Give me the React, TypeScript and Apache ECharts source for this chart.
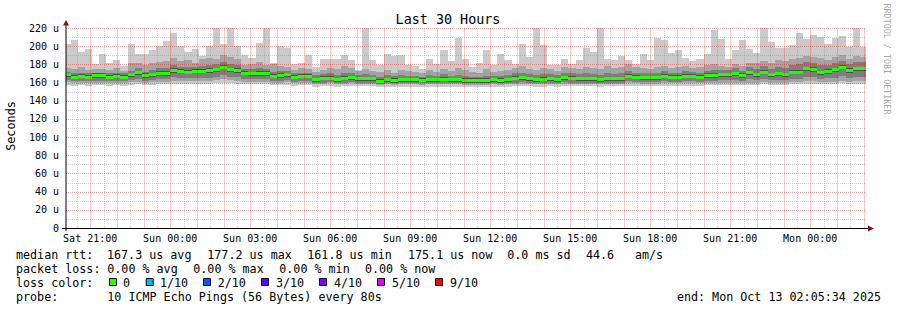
import React, { useEffect, useRef } from 'react';
import * as echarts from 'echarts';

// ---- time frame (hours counted from Sat 00:00) ----
const START_H = 20 + 5 / 60 + 34 / 3600; // Sat 20:05:34
const END_H = START_H + 30; // Mon 02:05:34
const FIRST_EDGE_H = START_H + 634.5 / 3600; // first 960 s consolidation boundary
const STEP_H = 960 / 3600;
const dayNames = ['Sat', 'Sun', 'Mon'];
const labelHours = [21, 24, 27, 30, 33, 36, 39, 42, 45, 48];

// ---- smoke data (microseconds), one entry per 960 s step ----
const medianRtt = [168.5,165.9,167.0,165.9,167.4,167.4,165.9,166.6,165.9,168.5,
170.7,167.4,168.8,169.9,169.9,173.2,172.1,171.4,172.1,172.1,
172.9,174.0,176.9,174.0,173.2,169.9,169.6,169.9,169.9,167.0,
167.7,168.8,165.9,167.0,167.0,163.0,164.8,164.8,163.0,164.8,
165.2,164.1,164.1,164.1,161.5,163.3,162.2,163.3,163.3,163.0,
162.6,163.0,163.0,163.7,163.0,163.0,162.2,162.2,161.9,162.2,
163.0,162.2,163.0,164.8,165.2,164.1,163.0,163.7,164.1,163.0,
165.2,164.8,164.1,164.1,164.1,163.0,164.1,164.1,164.1,166.6,
165.9,165.2,165.2,165.2,167.0,165.9,165.9,167.0,167.0,165.9,
167.7,167.7,168.5,168.5,169.6,167.7,170.7,168.5,171.4,168.8,
169.6,168.5,171.4,171.4,175.1,174.3,170.7,171.8,174.0,176.9,
173.2,175.1,175.1];

const maxRtt = [202.6,207.1,193.8,197.1,180.6,191.6,181.3,185.0,177.7,202.6,
191.6,191.6,196.0,200.4,206.0,214.8,200.4,193.8,197.1,189.4,
200.4,220,202.6,220,200.4,190.5,187.2,203.7,220,182.0,
200.4,198.2,180.6,181.3,190.5,176.9,186.1,186.1,186.1,190.5,
185.0,174.0,220,184.3,178.8,191.6,189.4,190.5,178.8,177.7,
175.1,186.1,179.9,196.0,183.5,209.3,185.5,176.9,181.3,196.0,
178.8,191.6,185.0,180.6,202.6,188.0,220,201.5,178.8,179.5,
186.1,180.6,185.0,198.2,193.8,220,186.1,185.0,189.0,184.3,
179.9,191.6,185.0,209.3,207.0,192.4,196.0,187.2,183.5,186.1,
191.6,217.3,208.2,186.1,196.0,207.1,197.1,192.4,220,204.5,
198.2,198.2,200.8,214.4,208.2,212.6,210.0,202.6,209.3,211.5,
199.0,220,199.0];

const ping9 = [176,175,177,174,175,175,174,176,173,181,
182,179,181,183,184,187,184,185,182,186,
187,186,190,188,186,179,180,183,179,180,
178,177,174,176,175,172,174,176,175,178,
176,173,175,173,172,174,171,174,173,172,
171,174,172,175,173,176,174,172,171,175,
172,173,174,176,178,175,174,176,175,173,
177,176,175,177,176,175,178,176,177,180,
177,176,175,177,178,176,177,178,176,177,
179,180,178,177,180,178,182,181,184,182,
185,184,186,187,189,188,187,185,188,190,
186,189,188];

const ping8 = [172,170,171,170,171,171,170,171,170,173,
176,172,174,176,176,179,177,177,177,178,
179,180,183,180,179,175,175,176,175,172,
173,173,170,171,171,168,169,170,168,170,
170,168,169,168,166,168,167,168,167,167,
166,168,167,169,167,168,167,166,166,167,
167,167,168,170,171,169,168,169,169,168,
171,170,169,170,169,168,170,169,170,173,
171,170,170,171,173,171,171,173,172,171,
173,174,174,174,176,173,177,175,178,175,
177,176,179,180,183,182,179,179,182,184,
180,183,183];

const ping7 = [171,168.5,169.5,168.5,170,170,168.5,169,168.5,171,
173,170,171,172.5,172.5,175.5,174.5,174,174.5,174.5,
175.5,176.5,179.5,176.5,175.5,172.5,172,172.5,172.5,169.5,
170,171,168.5,169.5,169.5,165.5,167,167,165.5,167,
167.5,166.5,166.5,166.5,164,165.5,164.5,165.5,165.5,165.5,
165,165.5,165.5,166,165.5,165.5,164.5,164.5,164.5,164.5,
165.5,164.5,165.5,167,167.5,166.5,165.5,166,166.5,165.5,
167.5,167,166.5,166.5,166.5,165.5,166.5,166.5,166.5,169,
168.5,167.5,167.5,167.5,169.5,168.5,168.5,169.5,169.5,168.5,
170,170,171,171,172,170,173,171,174,171,
172,171,174,174,177.5,177,173,174.5,176.5,179.5,
175.5,177.5,177.5];

const ping4 = [166.5,164,165,164,165.5,165.5,164,164.5,164,166.5,
168.5,165.5,166.5,167.5,167.5,171,170,169,170,170,
170.5,171.5,174.5,172,171,168,167.5,167.5,167.5,165,
165.5,166.5,164,165,165,161,162.5,163,161,162.5,
163,162,162,162,159.5,161,160,161,161,161,
160.5,161,161,161.5,161,161,160,160,160,160,
161,160,161,162.5,163,162,161,161.5,162,161,
163,162.5,162,162,162,161,162,162,162,164.5,
164,163,163,163,165,164,164,165,165,164,
165.5,165.5,166.5,166.5,167.5,165.5,168.5,166.5,169,166.5,
167.5,166.5,169,169,172.5,172,168.5,169.5,171.5,174.5,
171,172.5,172.5];

const ping3 = [163,162,162,161.5,162,162,161.5,162,161.5,163,
164,162,163,163.5,163.5,166,165,164.5,165,165,
165.5,166,168,166.5,166,164,163.5,163.5,163.5,162,
162,162.5,161,161.5,161.5,159.5,160,160.5,159.5,160,
160.5,160,160,160,158.5,159.5,159,159.5,159.5,159.5,
159,159.5,159.5,160,159.5,159.5,159,159,159,159,
159.5,159,159.5,160,160.5,160,159.5,160,160,159.5,
160.5,160,160,160,160,159.5,160,160,160,161.5,
161,160.5,160.5,160.5,161.5,161,161,161.5,161.5,161,
162,162,162.5,162.5,163,162,163.5,162.5,164,162.5,
163,162.5,164,164,166,166,164,164.5,165.5,167,
165,166,166];

const ping2 = [160.5,159.5,160,159.5,160,160,159.5,160,159.5,160.5,
161,160,160.5,161,161,162,162,161.5,162,162,
162,162.5,163.5,162.5,162,161,161,161,161,160,
160,160.5,159.5,160,160,158.5,158.5,159,158.5,158.5,
159,158.5,158.5,158.5,157.5,158,157.5,158,158,158,
157.5,158,158,158,158,158,157.5,157.5,157.5,157.5,
158,157.5,158,158.5,158.5,158.5,158,158,158.5,158,
158.5,158.5,158.5,158.5,158.5,158,158.5,158.5,158.5,159,
159,158.5,158.5,158.5,159,159,159,159,159,159,
159.5,159.5,159.5,159.5,160,159.5,160,159.5,160.5,159.5,
160,159.5,160.5,160.5,161.5,161.5,160.5,160.5,161,162,
161,161.5,161.5];

const minRtt = [157,156.5,157,156,157,157,156,157,156.5,157.5,
158,157,157.5,158,158,158.5,158.5,158,158.5,158.5,
158.5,159,159.5,159,158.5,158,158,158,158,157,
157,157.5,156.5,157,157,155.5,156,156,155.5,156,
156,156,156,156,155,155.5,155,155.5,155.5,155.5,
155,155.5,155.5,155.5,155.5,155.5,155,155,155,155,
155.5,155,155.5,156,156,156,155.5,155.5,156,155.5,
156,156,156,156,156,155.5,156,156,156,156.5,
156.5,156,156,156,156.5,156.5,156.5,156.5,156.5,156.5,
157,157,157,157,157.5,157,157.5,157,158,157,
157.5,157,158,158,158.5,158.5,158,158,158.5,159,
158.5,158.5,158.5];

// ---- legend texts ----
const lossColors = ['#26ff00', '#00b8ff', '#0059ff', '#5e00ff', '#7e00ff', '#dd00ff', '#ff0000'];
const lossLabels = ['0', '1/10', '2/10', '3/10', '4/10', '5/10', '9/10'];
const rttLegend = ['median rtt:', '167.3 us avg', '177.2 us max', '161.8 us min', '175.1 us now', '0.0 ms sd', '44.6', 'am/s'];
const lossLegend = ['packet loss:', '0.00 % avg', '0.00 % max', '0.00 % min', '0.00 % now'];
const probeText = '10 ICMP Echo Pings (56 Bytes) every 80s';
const endText = 'end: Mon Oct 13 02:05:34 2025';

const MONO = 'DejaVu Sans Mono';
const Y_MAX = 220;

function barEdges(i: number): [number, number] {
  const x0 = i === 0 ? START_H : FIRST_EDGE_H + (i - 1) * STEP_H;
  const x1 = Math.min(END_H, FIRST_EDGE_H + i * STEP_H);
  return [x0, x1];
}

function txt(x: number, y: number, text: string, size: number, align = 'left', extra: any = {}) {
  return {
    type: 'text', x, y, silent: true,
    style: {
      text, fontFamily: MONO, fontSize: size, fill: '#000',
      align, textAlign: align, verticalAlign: 'middle', textVerticalAlign: 'middle',
      ...extra,
    },
  };
}

function gridLineSeries(name: string, data: number[][], color: string, dash: number[] | null, z: number) {
  return {
    type: 'custom', name, silent: true, z,
    data,
    renderItem: (_p: any, api: any) => {
      const kind = api.value(2);
      let x1, y1, x2, y2;
      if (kind === 0) {
        const h = api.value(0);
        const a = api.coord([h, 0]), b = api.coord([h, Y_MAX]);
        x1 = Math.round(a[0]) + 0.5; x2 = x1; y1 = a[1]; y2 = b[1];
      } else {
        const v = api.value(1);
        const a = api.coord([START_H, v]), b = api.coord([END_H, v]);
        y1 = Math.round(a[1]) + 0.5; y2 = y1; x1 = a[0]; x2 = b[0];
      }
      const style: any = { stroke: color, lineWidth: 1 };
      if (dash) style.lineDash = dash;
      return { type: 'line', shape: { x1, y1, x2, y2 }, style };
    },
  };
}

function buildOption() {
  const smokeData = medianRtt.map((m, i) => {
    const [x0, x1] = barEdges(i);
    return [x0, x1, minRtt[i], ping2[i], ping3[i], ping4[i], ping7[i], ping8[i], ping9[i], maxRtt[i], m];
  });

  // grid lines as [x, y, kind(0 vertical / 1 horizontal)]
  const minorGrid: number[][] = [];
  const majorGridH: number[][] = [];
  const majorGridV: number[][] = [];
  for (let k = Math.ceil(START_H * 2); k / 2 < END_H; k++) if (k % 2 === 1) minorGrid.push([k / 2, 0, 0]);
  for (let v = 10; v <= Y_MAX; v += 20) minorGrid.push([START_H, v, 1]);
  for (let h = Math.ceil(START_H); h < END_H; h += 1) majorGridV.push([h, 0, 0]);
  for (let v = 20; v <= Y_MAX; v += 20) majorGridH.push([START_H, v, 1]);

  const bands: [number, number, string][] = [
    [2, 9, '#cacaca'],
    [3, 8, '#a4a4a4'],
    [4, 7, '#7e7e7e'],
    [5, 6, '#4e4e4e'],
  ];

  const graphics: any[] = [];
  graphics.push(txt(448, 19.5, 'Last 30 Hours', 13.4, 'center'));
  graphics.push({ ...txt(11, 126, 'Seconds', 11.8, 'center'), rotation: Math.PI / 2 });
  graphics.push({ ...txt(887, 59, 'RRDTOOL / TOBI OETIKER', 8.4, 'center', { fill: '#a8a8a8' }), rotation: -Math.PI / 2 });

  // axes lines and arrows
  graphics.push({ type: 'line', silent: true, z: 10, shape: { x1: 66, y1: 231, x2: 66, y2: 23 }, style: { stroke: '#000', lineWidth: 1 } });
  graphics.push({ type: 'line', silent: true, z: 10, shape: { x1: 62, y1: 228.5, x2: 869, y2: 228.5 }, style: { stroke: '#000', lineWidth: 1 } });
  graphics.push({ type: 'polygon', silent: true, z: 10, shape: { points: [[63, 25.5], [69, 25.5], [66, 20]] }, style: { fill: '#7f1414' } });
  graphics.push({ type: 'polygon', silent: true, z: 10, shape: { points: [[868, 225.5], [868, 231.5], [874, 228.5]] }, style: { fill: '#7f1414' } });

  // legend
  const rttX = [16, 107, 207.3, 307.3, 408, 507.3, 586, 635];
  rttLegend.forEach((t, i) => graphics.push(txt(rttX[i], 254.5, t, 11.7)));
  const lossX = [16, 107.3, 193.3, 279.3, 365];
  lossLegend.forEach((t, i) => graphics.push(txt(lossX[i], 268.5, t, 11.7)));
  graphics.push(txt(16, 282.5, 'loss color:', 11.7));
  const boxX = [109, 145.7, 203, 261, 319, 377, 435];
  const boxLabelX = [123, 160, 217.7, 276, 334, 392, 450];
  lossColors.forEach((c, i) => {
    graphics.push({ type: 'rect', silent: true, shape: { x: boxX[i] + 0.5, y: 278.5, width: 7, height: 7 }, style: { fill: c, stroke: '#000', lineWidth: 1 } });
    graphics.push(txt(boxLabelX[i], 282.5, lossLabels[i], 11.7));
  });
  graphics.push(txt(16, 296.5, 'probe:', 11.7));
  graphics.push(txt(107.3, 296.5, probeText, 11.7));
  graphics.push(txt(881, 296.5, endText, 11.7, 'right'));

  return {
    animation: false,
    backgroundColor: '#ffffff',
    grid: { left: 66, top: 28, width: 800, height: 200, containLabel: false },
    xAxis: {
      type: 'value', min: START_H, max: END_H,
      axisLine: { show: false }, axisTick: { show: false }, splitLine: { show: false },
      axisLabel: {
        customValues: labelHours,
        formatter: (h: number) => {
          const d = Math.floor(h / 24);
          const hh = Math.round(h - d * 24);
          return `${dayNames[d]} ${String(hh).padStart(2, '0')}:00`;
        },
        fontFamily: MONO, fontSize: 10, color: '#000', margin: 5,
      },
    },
    yAxis: {
      type: 'value', min: 0, max: Y_MAX, interval: 20,
      axisLine: { show: false }, axisTick: { show: false }, splitLine: { show: false },
      axisLabel: {
        formatter: (v: number) => (v === 0 ? '0' : `${v} u`),
        fontFamily: MONO, fontSize: 10, color: '#000', margin: 7,
      },
    },
    series: [
      {
        type: 'custom', name: 'smoke', silent: true, z: 2,
        data: smokeData,
        renderItem: (_p: any, api: any) => {
          const x0 = api.value(0), x1 = api.value(1);
          const children: any[] = bands.map(([lo, hi, color]) => {
            const top = Math.min(Y_MAX, api.value(hi));
            const bot = api.value(lo);
            const a = api.coord([x0, top]);
            const b = api.coord([x1, bot]);
            const xa = Math.round(a[0]), xb = Math.round(b[0]);
            const ya = Math.round(a[1]), yb = Math.round(b[1]);
            return { type: 'rect', shape: { x: xa, y: ya, width: xb - xa, height: Math.max(1, yb - ya) }, style: { fill: color } };
          });
          const m = api.coord([x0, api.value(10)]);
          const e = api.coord([x1, api.value(10)]);
          const xa = Math.round(m[0]), xb = Math.round(e[0]);
          children.push({ type: 'rect', shape: { x: xa, y: Math.round(m[1] - 1.5), width: xb - xa, height: 3 }, style: { fill: '#26ff00' } });
          return { type: 'group', children };
        },
      },
      gridLineSeries('minor grid', minorGrid, 'rgba(120,120,120,0.32)', [1, 1], 5),
      gridLineSeries('major grid h', majorGridH, 'rgba(255,0,0,0.36)', [1, 1], 6),
      gridLineSeries('major grid v', majorGridV, 'rgba(255,0,0,0.22)', null, 6),
    ],
    graphic: graphics,
  };
}

export default function App() {
  const ref = useRef<HTMLDivElement>(null);
  useEffect(() => {
    const chart = echarts.init(ref.current!, null, { renderer: 'svg' });
    chart.setOption(buildOption() as any);
    return () => chart.dispose();
  }, []);
  return <div ref={ref} style={{ position: 'absolute', left: 0, top: 0, width: 897, height: 310, background: '#fff' }} />;
}
